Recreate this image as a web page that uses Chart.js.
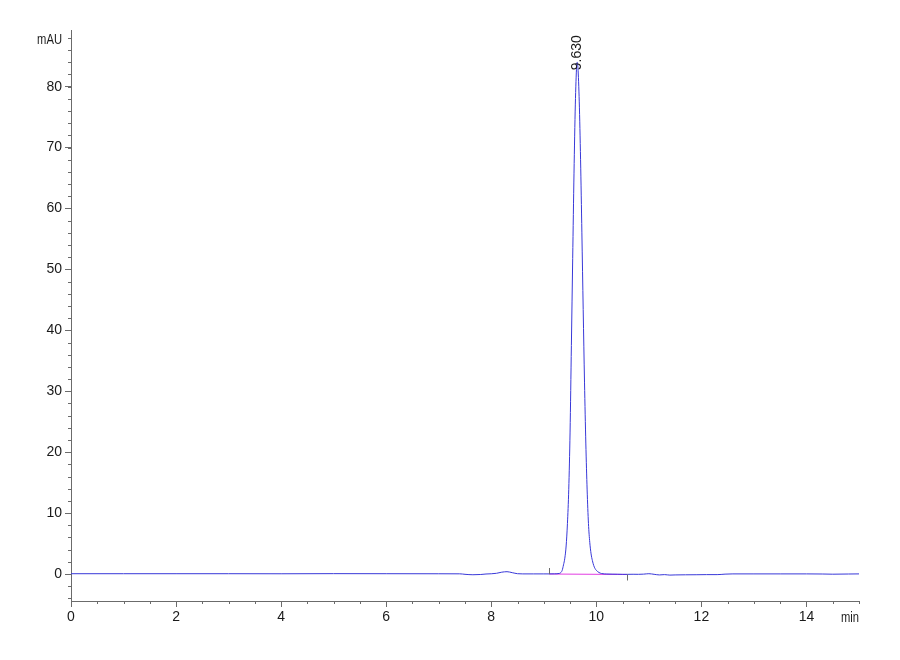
<!DOCTYPE html>
<html>
<head>
<meta charset="utf-8">
<script src="https://cdn.jsdelivr.net/npm/chart.js@4.4.1/dist/chart.umd.min.js"></script>
<style>
    body { margin: 0; background: #fff; }
    #wrap { width: 900px; height: 660px; }
</style>
</head>
<body>
<div id="wrap"><canvas id="chrom" width="900" height="660"></canvas></div>
<script>
const times = [
    0, 1, 2, 3, 4, 5, 6, 7, 7.4, 7.5, 7.65, 7.8, 7.9, 8.0, 8.1, 8.2, 8.3, 8.4, 8.5, 8.6, 8.8, 9.0, 9.1, 9.2,
    9.3, 9.325, 9.35, 9.375, 9.4, 9.425, 9.45, 9.475, 9.5, 9.525, 9.55, 9.575, 9.6, 9.625, 9.635,
    9.65, 9.675, 9.7, 9.725, 9.75, 9.775, 9.8, 9.825, 9.85, 9.875, 9.9, 9.925, 9.95, 9.975, 10.0,
    10.05, 10.1, 10.2, 10.3, 10.4, 10.5, 10.6, 10.7, 10.8, 10.9, 11.0, 11.1, 11.2, 11.3, 11.4, 11.5,
    11.7, 11.9, 12.1, 12.3, 12.45, 12.6, 13.0, 13.5, 14.0, 14.3, 14.5, 14.8, 15.0
];
const signal = [
    0.05, 0.05, 0.05, 0.05, 0.04, 0.06, 0.05, 0.04, 0.03, -0.05, -0.12, -0.08, 0.0, 0.04, 0.12, 0.3, 0.38, 0.22, 0.05, 0.02, 0.02, 0.02, 0.02, 0.03,
    0.1, 0.25, 0.6, 1.5, 2.6, 4.6, 8.3, 13.9, 23.3, 37.5, 51.8, 65.8, 77.0, 83.4, 84.0,
    83.1, 77.5, 68.0, 56.0, 43.4, 31.5, 21.5, 13.8, 8.3, 5.2, 3.3, 2.2, 1.4, 0.9, 0.6,
    0.25, 0.08, 0.0, -0.02, -0.03, -0.05, -0.05, -0.04, -0.05, -0.02, 0.05, -0.05, -0.15, -0.1, -0.18, -0.15,
    -0.13, -0.12, -0.1, -0.1, -0.02, 0.02, 0.02, 0.02, 0.02, 0.0, -0.03, 0.0, 0.02
];

// Línea base de integración del pico
const baselineTimes = [9.10, 10.58];
const baselineValues = [0.0, -0.08];

// Etiqueta del pico
const peakTimes = [9.630];
const peakHeights = [84.0];
const peakLabels = ['9.630'];

// Marcas de los ejes
const xTickValues = [0, 2, 4, 6, 8, 10, 12, 14];
const yTickValues = [0, 10, 20, 30, 40, 50, 60, 70, 80];
const xMinorStep = 0.5;
const yMinorStep = 2;

const axisColor = '#6b6b6b';
const textColor = '#1a1a1a';
const tickFont = "'Liberation Sans Narrow', 'Arial Narrow', 'Liberation Sans', sans-serif";

// Texto estrecho (imita Arial Narrow)
function narrowText(ctx, text, x, y, align, baseline) {
    ctx.save();
    ctx.translate(x, y);
    ctx.scale(0.8, 1);
    ctx.textAlign = align;
    ctx.textBaseline = baseline;
    ctx.fillText(text, 0, 0);
    ctx.restore();
}

// Dibuja marcas menores, unidades y etiquetas de picos
const decorPlugin = {
    id: 'decor',
    afterDraw(chart) {
        const { ctx, chartArea, scales } = chart;
        const xs = scales.x, ys = scales.y;
        ctx.save();
        ctx.strokeStyle = axisColor;
        ctx.lineWidth = 1;
        ctx.beginPath();
        for (let v = Math.ceil(xs.min / xMinorStep) * xMinorStep; v <= xs.max; v += xMinorStep) {
            const px = Math.round(xs.getPixelForValue(v)) + 0.5;
            ctx.moveTo(px, chartArea.bottom);
            ctx.lineTo(px, chartArea.bottom + 3);
        }
        for (let v = Math.ceil(ys.min / yMinorStep) * yMinorStep; v <= ys.max; v += yMinorStep) {
            const py = Math.round(ys.getPixelForValue(v)) + 0.5;
            ctx.moveTo(chartArea.left - 3, py);
            ctx.lineTo(chartArea.left, py);
        }
        // marcas de inicio / fin de la línea base
        const b0 = xs.getPixelForValue(baselineTimes[0]);
        const b1 = xs.getPixelForValue(baselineTimes[1]);
        const by0 = ys.getPixelForValue(baselineValues[0]);
        const by1 = ys.getPixelForValue(baselineValues[1]);
        ctx.moveTo(Math.round(b0) + 0.5, by0 - 6);
        ctx.lineTo(Math.round(b0) + 0.5, by0);
        ctx.moveTo(Math.round(b1) + 0.5, by1);
        ctx.lineTo(Math.round(b1) + 0.5, by1 + 6);
        ctx.stroke();

        ctx.fillStyle = textColor;
        ctx.font = "14px " + tickFont;
        narrowText(ctx, 'mAU', chartArea.left - 9, chartArea.top + 10, 'right', 'middle');
        narrowText(ctx, 'min', chartArea.right, chartArea.bottom + 10, 'right', 'top');

        ctx.font = "14px 'Liberation Sans', Arial, sans-serif";
        ctx.textAlign = 'left';
        ctx.textBaseline = 'middle';
        peakTimes.forEach((t, i) => {
            const px = xs.getPixelForValue(t);
            const py = ys.getPixelForValue(peakHeights[i]);
            ctx.save();
            ctx.translate(px, py + 8);
            ctx.rotate(-Math.PI / 2);
            ctx.fillText(peakLabels[i], 0, 0);
            ctx.restore();
        });
        ctx.restore();
    }
};

new Chart(document.getElementById('chrom'), {
    type: 'line',
    data: {
        datasets: [{
            data: times.map((t, i) => ({ x: t, y: signal[i] })),
            borderColor: '#3838d8',
            borderWidth: 1,
            pointRadius: 0,
            cubicInterpolationMode: 'monotone',
            fill: false
        }, {
            data: baselineTimes.map((t, i) => ({ x: t, y: baselineValues[i] })),
            borderColor: '#e23ee2',
            borderWidth: 1.2,
            pointRadius: 0,
            fill: false
        }]
    },
    options: {
        responsive: false,
        animation: false,
        layout: { padding: { left: 0, top: 30, right: 41, bottom: 0 } },
        plugins: {
            legend: { display: false },
            tooltip: { enabled: false }
        },
        scales: {
            x: {
                type: 'linear',
                min: 0,
                max: 15,
                afterBuildTicks: (scale) => { scale.ticks = xTickValues.map(v => ({ value: v })); },
                afterFit: (scale) => { scale.height = 59; },
                grid: { drawOnChartArea: false, color: axisColor, tickLength: 6 },
                border: { color: axisColor, width: 1 },
                ticks: { color: textColor, font: { family: tickFont, size: 14 }, padding: 2, maxRotation: 0 }
            },
            y: {
                type: 'linear',
                min: -4.43,
                max: 89.3,
                afterBuildTicks: (scale) => { scale.ticks = yTickValues.map(v => ({ value: v })); },
                afterFit: (scale) => { scale.width = 71; },
                grid: { drawOnChartArea: false, color: axisColor, tickLength: 6 },
                border: { color: axisColor, width: 1 },
                ticks: { color: textColor, font: { family: tickFont, size: 14 }, padding: 3 }
            }
        }
    },
    plugins: [decorPlugin]
});
</script>
</body>
</html>
